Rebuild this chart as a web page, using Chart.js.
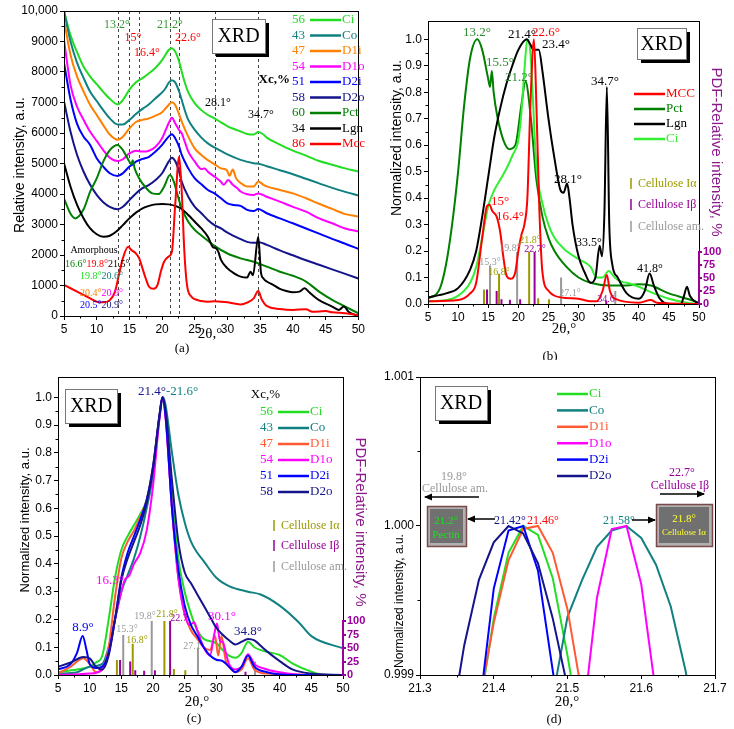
<!DOCTYPE html>
<html>
<head>
<meta charset="utf-8">
<script src="https://cdn.jsdelivr.net/npm/chart.js@4.4.1/dist/chart.umd.min.js"></script>
<style>
  body { margin: 0; background: #fff; width: 734px; height: 729px; position: relative; overflow: hidden; }
  canvas { position: absolute; }
</style>
</head>
<body>
<canvas id="ca" width="367" height="360" style="left:0;top:0"></canvas>
<canvas id="cb" width="367" height="360" style="left:367px;top:0"></canvas>
<canvas id="cc" width="367" height="369" style="left:0;top:360px"></canvas>
<canvas id="cd" width="367" height="369" style="left:367px;top:360px"></canvas>
<script>
// ---- (a) raw XRD patterns, [2theta, intensity] ----
const aCi = [[5,10000],[6,9200],[7,8650],[8,8170],[9,7850],[10,7600],[11,7350],[12,7120],[13.2,6940],[14,7080],[15,7420],[16,7660],[17,7800],[18,7960],[19,8140],[20,8390],[20.5,8560],[21,8720],[21.5,8780],[22,8670],[22.6,8340],[23,8010],[23.5,7630],[24,7330],[25,6970],[26,6750],[27,6590],[28,6480],[29,6350],[30,6220],[31,6130],[32,6050],[33,5970],[34,5950],[34.7,6030],[35.5,5950],[36,5850],[38,5620],[40,5420],[42,5260],[44,5080],[46,4960],[48,4840],[50,4740]];
const aCo = [[5,10000],[6,9000],[7,8300],[8,7800],[9,7350],[10,7050],[11,6750],[12,6480],[13.2,6280],[14,6280],[15,6430],[16,6620],[17,6790],[18,6940],[19,7140],[20,7330],[20.5,7460],[21,7640],[21.5,7730],[22,7660],[22.6,7360],[23,7080],[23.5,6720],[24,6430],[25,6100],[26,5850],[27,5660],[28,5530],[30,5300],[32,5120],[34,5010],[35,4980],[36,4910],[38,4780],[40,4650],[42,4500],[44,4350],[46,4200],[48,4070],[50,3950]];
const aD1i = [[5,9700],[6,8560],[7,7850],[8,7360],[9,6920],[10,6590],[11,6260],[12,5950],[13.2,5780],[14,5880],[15,6150],[16,6360],[17,6430],[18,6480],[19,6570],[20,6680],[21,6920],[21.5,7010],[22,6920],[22.6,6610],[23,6370],[24,5880],[25,5490],[26,5280],[27,5110],[28,4980],[29,4840],[29.9,4780],[30.3,4600],[30.8,4800],[31.3,4520],[32,4360],[33,4250],[34,4250],[34.7,4410],[35.5,4300],[36,4250],[38,4130],[40,4020],[42,3860],[44,3680],[46,3510],[48,3340],[50,3260]];
const aD1o = [[5,9050],[6,7570],[7,6860],[8,6430],[9,6040],[10,5740],[11,5440],[12,5190],[13.2,5080],[14,5140],[15,5330],[16,5420],[17,5390],[18,5420],[19,5550],[20,5830],[21,6320],[21.5,6500],[22,6320],[22.6,6100],[23,5990],[23.5,5690],[24,5390],[25,5060],[26,4820],[26.5,4840],[27,4730],[28,4570],[29,4400],[29.4,4300],[30.1,4460],[30.8,4300],[31.5,4190],[32,4080],[33,3990],[34,3970],[34.7,4020],[36,3910],[38,3750],[40,3580],[42,3420],[44,3200],[46,3040],[48,2870],[50,2770]];
const aD2i = [[5,8300],[6,7100],[7,6300],[8,5880],[9,5610],[9.5,5390],[10,5170],[11,4900],[12,4680],[13.2,4590],[14,4680],[15,4900],[15.5,4970],[16,5060],[17,5150],[18,5220],[19,5390],[20,5610],[21,5880],[21.5,5960],[22,5830],[22.6,5550],[23,5280],[24,4840],[25,4510],[26,4320],[27,4130],[28,4020],[29,3860],[30,3690],[31,3640],[32,3610],[33,3480],[34,3440],[34.7,3510],[36,3370],[38,3200],[40,3040],[42,2870],[44,2700],[46,2530],[48,2370],[50,2200]];
const aD2o = [[5,7030],[6,6040],[7,5280],[8,4730],[9,4300],[10,3970],[11,3730],[12,3580],[13.2,3500],[14,3580],[15,3800],[16,4020],[17,4190],[18,4300],[19,4460],[20,4680],[21,5060],[21.5,5190],[22,5080],[22.6,4730],[23,4400],[24,3910],[25,3580],[26,3370],[27,3150],[28,2980],[29,2870],[30,2730],[31,2620],[32,2520],[33,2430],[34,2400],[35,2410],[36,2330],[38,2150],[40,1990],[42,1830],[44,1680],[46,1530],[48,1380],[50,1230]];
const aPct = [[5,3850],[6,3350],[6.7,3200],[8,3500],[9,4080],[10,4510],[11,5060],[12,5440],[13.2,5610],[14,5440],[15,5060],[15.3,4970],[15.5,5110],[15.8,4840],[16.5,4510],[17.5,4210],[18.5,4020],[19.5,4000],[20.3,4240],[21.2,4620],[21.8,4400],[22.5,3860],[23,3530],[24,3090],[25,2820],[26,2640],[27,2470],[28,2300],[30,2050],[32,1890],[34,1780],[36,1620],[38,1450],[40,1320],[42,1130],[44,800],[46,530],[48,310],[50,90]];
const aLgn = [[5,5010],[6,4240],[7,3640],[8,3200],[9,2870],[10,2680],[11,2600],[12,2630],[13,2770],[14,2980],[15,3200],[16,3390],[17,3530],[18,3610],[19,3660],[20,3670],[21,3660],[22,3610],[23,3510],[24,3310],[25,3090],[26,2870],[27,2600],[27.8,2250],[28.2,2230],[28.6,2100],[29,1840],[30,1560],[31,1400],[32,1290],[33,1260],[33.5,1450],[33.9,1340],[34.7,2600],[35.1,1450],[35.5,1230],[36,1130],[37,1020],[38,890],[39,820],[40,780],[41,800],[41.8,910],[42.5,780],[44,520],[46,310],[47,200],[47.8,310],[48.5,140],[50,0]];
const aMcc = [[5,1020],[7,800],[9,580],[10,470],[11,450],[12,520],[12.8,800],[13.5,1450],[14,1890],[14.8,2270],[15.3,2160],[16,2050],[16.5,1890],[17,1560],[17.5,1230],[18,960],[18.7,890],[19.3,1020],[19.8,1450],[20.3,1780],[21,1950],[21.5,2110],[22,3640],[22.6,5220],[23,4080],[23.4,2110],[23.8,1020],[24.5,630],[25,550],[26,490],[27,470],[28,480],[29,470],[30,450],[31,410],[32,380],[33,440],[34,580],[34.7,820],[35.2,560],[36,330],[38,230],[40,200],[42,220],[43,140],[45,160],[46,120],[48,90],[50,30]];

// ---- (b) normalized patterns ----
const bMcc = [[5,0.01],[10,0.015],[12,0.04],[13,0.08],[14,0.25],[14.8,0.37],[15.2,0.375],[15.7,0.35],[16.4,0.33],[17,0.27],[17.5,0.18],[18,0.11],[18.7,0.095],[19.5,0.12],[20,0.2],[20.5,0.26],[21,0.3],[21.5,0.4],[22,0.75],[22.6,1.0],[23,0.75],[23.5,0.35],[24,0.12],[25,0.05],[27,0.025],[30,0.02],[32,0.01],[33,0.01],[34,0.05],[34.7,0.11],[35.2,0.05],[36,0.02],[40,0.005],[42,0.015],[43,0.005],[50,0]];
const bPct = [[5,0.02],[7,0.06],[8,0.15],[9,0.3],[10,0.5],[11,0.75],[12,0.93],[13.2,1.0],[14,0.96],[15,0.85],[15.3,0.82],[15.6,0.88],[15.9,0.8],[16.5,0.71],[17.5,0.62],[18.5,0.585],[19.5,0.6],[20.5,0.75],[21.2,0.84],[22,0.72],[23,0.47],[24,0.33],[25,0.25],[26,0.2],[28,0.14],[30,0.1],[32,0.08],[35,0.07],[38,0.07],[40,0.075],[42,0.07],[45,0.04],[48,0.02],[50,0.005]];
const bLgn = [[5,0.025],[8,0.04],[10,0.06],[12,0.13],[13,0.2],[14,0.33],[15,0.48],[16,0.63],[17,0.74],[18,0.83],[19,0.9],[20,0.96],[21.4,1.0],[22,0.98],[22.5,0.96],[23.4,0.96],[24,0.88],[25,0.7],[26,0.55],[27,0.43],[27.5,0.42],[28.1,0.455],[28.5,0.4],[29,0.3],[30,0.18],[31,0.12],[32,0.08],[32.8,0.1],[33.5,0.22],[33.9,0.18],[34.3,0.35],[34.7,0.82],[35.1,0.3],[35.6,0.15],[36.5,0.1],[38,0.04],[40,0.02],[41,0.05],[41.8,0.115],[42.5,0.07],[43.5,0.02],[45,0],[47,0],[47.5,0.03],[48,0.065],[48.5,0.03],[50,0]];
const bCi = [[5,0.01],[9,0.02],[11,0.05],[12,0.08],[13,0.14],[14,0.25],[15,0.37],[16,0.43],[17,0.47],[18,0.51],[19,0.56],[20,0.62],[20.5,0.72],[21,0.88],[21.5,1.0],[22,0.95],[23,0.52],[24,0.38],[25,0.3],[26,0.25],[28,0.2],[30,0.17],[32,0.14],[33,0.1],[34,0.1],[35,0.125],[36,0.1],[37,0.085],[38,0.08],[40,0.065],[42,0.045],[45,0.02],[48,0.005],[50,0]];

// ---- PDF reference lines (2theta, relative intensity %) ----
const iaPos = [14.3, 16.8, 21.8, 23.3, 25.1];
const iaInt = [28, 58, 100, 11, 9];
const ibPos = [14.8, 16.4, 17.2, 18.6, 20.3, 22.7, 34.6];
const ibInt = [28, 25, 9, 8, 9, 100, 6];
const amPos = [15.3, 19.8, 27.1, 36.1];
const amInt = [74, 100, 51, 25];

// ---- (c) normalized cellulose samples ----
const cCi = [[5,0.01],[8,0.02],[10,0.03],[11,0.045],[12,0.07],[13,0.2],[14,0.35],[15,0.45],[16,0.5],[17,0.54],[18,0.58],[19,0.63],[20,0.75],[21,0.93],[21.5,1.0],[22,0.95],[23,0.65],[24,0.42],[25,0.3],[26,0.22],[27,0.16],[28,0.13],[30,0.115],[31,0.09],[32,0.07],[33,0.062],[34,0.08],[35,0.12],[36,0.1],[37.5,0.086],[40,0.072],[42,0.042],[45,0.012],[47,0],[50,0]];
const cCo = [[5,0.005],[8,0.01],[10,0.03],[12,0.04],[13,0.1],[14,0.2],[15,0.3],[16,0.36],[17,0.42],[18,0.5],[19,0.6],[20,0.72],[21,0.92],[21.6,1.0],[22,0.97],[23,0.8],[24,0.65],[25,0.55],[26,0.48],[27,0.44],[28,0.41],[30,0.35],[32,0.32],[35,0.3],[37,0.29],[40,0.25],[43,0.19],[45,0.14],[50,0.096]];
const cD1i = [[5,0.005],[7,0.03],[9,0.06],[10,0.04],[11,0.01],[12,0.02],[13,0.1],[14,0.28],[15,0.42],[16,0.48],[17,0.52],[18,0.57],[19,0.63],[20,0.75],[21,0.93],[21.5,1.0],[22,0.93],[23,0.6],[24,0.35],[25,0.22],[26,0.16],[27,0.13],[28,0.1],[29,0.09],[29.8,0.14],[30.3,0.07],[30.8,0.14],[31.5,0.05],[32,0.03],[33,0.01],[34,0.02],[35,0.06],[36,0.02],[38,0.005],[50,0]];
const cD1o = [[5,0],[10,0.005],[12,0.02],[13,0.08],[14,0.2],[15,0.3],[15.5,0.34],[16.3,0.36],[17,0.4],[18,0.44],[19,0.52],[20,0.68],[21,0.92],[21.5,1.0],[22,0.92],[23,0.6],[24,0.35],[25,0.22],[25.8,0.18],[26.5,0.19],[27,0.16],[28,0.1],[29,0.07],[29.7,0.15],[30.1,0.185],[30.6,0.12],[31,0.12],[31.5,0.08],[32,0.04],[33,0.02],[34,0.03],[35,0.075],[36,0.04],[38,0.02],[40,0.01],[44,0],[50,0]];
const cD2i = [[5,0.02],[7,0.04],[8,0.08],[8.9,0.14],[9.5,0.09],[10,0.04],[11,0.025],[12,0.03],[13,0.08],[14,0.2],[15,0.35],[16,0.44],[17,0.5],[18,0.56],[19,0.63],[20,0.75],[21,0.93],[21.5,1.0],[22,0.93],[23,0.6],[24,0.38],[25,0.25],[26,0.18],[27,0.14],[28,0.1],[29,0.07],[30,0.055],[31,0.05],[32,0.03],[33,0.01],[34,0.03],[35,0.07],[36,0.03],[38,0.01],[42,0],[50,0]];
const cD2o = [[5,0.03],[7,0.045],[9,0.065],[10,0.06],[11,0.03],[12,0.02],[13,0.07],[14,0.2],[15,0.34],[16,0.42],[17,0.48],[18,0.54],[19,0.62],[20,0.74],[21,0.93],[21.5,1.0],[22,0.95],[23,0.7],[24,0.48],[25,0.37],[26,0.33],[27,0.29],[28,0.25],[29,0.21],[30,0.17],[31,0.145],[32,0.125],[33,0.11],[34,0.12],[35,0.13],[36,0.125],[37,0.105],[38,0.085],[40,0.05],[42,0.02],[45,0.005],[50,0]];

// ---- (d) peak tops ----
const dCi = [[21.38,0.99875],[21.40,0.99938],[21.42,0.99982],[21.44,1.0],[21.46,0.99994],[21.48,0.99965],[21.50,0.99913],[21.52,0.99855]];
const dCo = [[21.48,0.99885],[21.50,0.99939],[21.52,0.99964],[21.54,0.99986],[21.56,0.99997],[21.58,1.0],[21.60,0.99992],[21.62,0.99974],[21.64,0.99946],[21.66,0.99903],[21.68,0.9985]];
const dD1i = [[21.38,0.9988],[21.40,0.99935],[21.42,0.99977],[21.44,0.99998],[21.46,1.0],[21.48,0.99982],[21.50,0.99944],[21.52,0.99886]];
const dD1o = [[21.52,0.99866],[21.54,0.99952],[21.56,0.99998],[21.58,1.0],[21.60,0.99961],[21.62,0.99887]];
const dD2i = [[21.38,0.99875],[21.40,0.99958],[21.42,0.99997],[21.44,1.0],[21.46,0.9997],[21.48,0.99903],[21.50,0.9984]];
const dD2o = [[21.34,0.9986],[21.36,0.9992],[21.38,0.99964],[21.40,0.99989],[21.42,1.0],[21.44,0.99995],[21.46,0.99975],[21.48,0.99938],[21.50,0.99892]];

const GRN = '#22dd22', TEAL = '#108080', ORG = '#ff8000', MAG = '#ff00ff', BLU = '#0000ff',
      NAV = '#14148c', DKG = '#008000', BLK = '#000000', RED = '#ff0000', TOM = '#ff5a33',
      OLV = '#9a9a00', PUR = '#990099', GRY = '#999999', LGRN = '#33ee33';
const SERIF = '"Liberation Serif", "DejaVu Serif", serif';
const SANS = '"Liberation Sans", Arial, sans-serif';

Chart.defaults.font.family = SANS;
Chart.defaults.font.size = 12;
Chart.defaults.color = '#000';

const pts = a => a.map(p => ({ x: p[0], y: p[1] }));

function curve(label, data, color, smooth) {
  return {
    label, data: pts(data), borderColor: color, borderWidth: 2, pointRadius: 0, fill: false,
    tension: smooth === false ? 0 : 0.4, cubicInterpolationMode: smooth === false ? 'default' : 'monotone', yAxisID: 'y'
  };
}

function sticks(label, pos, ints, color) {
  const d = [];
  pos.forEach((x, i) => { d.push({ x, y: 0 }, { x, y: ints[i] }, { x, y: null }); });
  return { label, data: d, borderColor: color, borderWidth: 2, pointRadius: 0, tension: 0, spanGaps: false, yAxisID: 'y2' };
}

function list(min, max, step) {
  const t = [];
  const n = Math.round((max - min) / step);
  for (let i = 0; i <= n; i++) t.push({ value: +(min + i * step).toFixed(6) });
  return t;
}

function xAxis(min, max, step, fmt, h) {
  return {
    type: 'linear', position: 'bottom', min, max,
    afterBuildTicks: s => { s.ticks = list(min, max, step); },
    afterFit: s => { s.height = h; },
    ticks: { callback: fmt, padding: 2, maxRotation: 0, autoSkip: false },
    grid: { drawOnChartArea: false, tickLength: 4, tickColor: '#000', color: '#000' },
    border: { color: '#000' }
  };
}

function yAxis(min, max, tmin, tmax, step, fmt, w) {
  return {
    type: 'linear', position: 'left', min, max,
    afterBuildTicks: s => { s.ticks = list(tmin, tmax, step); },
    afterFit: s => { s.width = w; },
    ticks: { callback: fmt, padding: 2, autoSkip: false },
    grid: { drawOnChartArea: false, tickLength: 4, tickColor: '#000', color: '#000' },
    border: { color: '#000' }
  };
}

function pdfAxis(max, w) {
  return {
    type: 'linear', position: 'right', min: 0, max,
    afterBuildTicks: s => { s.ticks = list(0, 100, 25); },
    afterFit: s => { s.width = w; },
    ticks: { color: PUR, font: { size: 11, weight: 'bold' }, padding: 1, autoSkip: false },
    grid: { drawOnChartArea: false, tickLength: 3, tickColor: PUR, lineWidth: 2 },
    border: { display: false }
  };
}

function options(box, cw, scales) {
  return {
    responsive: false, animation: false, devicePixelRatio: 1,
    layout: { padding: { left: 0, top: box[1], right: scales.y2 ? 0 : cw - box[2], bottom: 0 } },
    plugins: { legend: { display: false }, tooltip: { enabled: false } },
    scales
  };
}

// ---- drawing helpers ----
function txt(ctx, s, x, y, color, size, align, fam, bold) {
  ctx.save();
  ctx.font = (bold ? 'bold ' : '') + size + 'px ' + (fam || SERIF);
  ctx.fillStyle = color;
  ctx.textAlign = align || 'center';
  ctx.textBaseline = 'middle';
  ctx.fillText(s, x, y);
  ctx.restore();
}

function seq(ctx, parts, x, y, size) {
  ctx.save();
  ctx.font = size + 'px ' + SERIF;
  parts.forEach(p => {
    ctx.fillStyle = p[1]; ctx.textAlign = 'left'; ctx.textBaseline = 'middle';
    ctx.fillText(p[0], x, y);
    x += ctx.measureText(p[0]).width;
  });
  ctx.restore();
}

function rot(ctx, s, x, y, ang, color, size) {
  ctx.save();
  ctx.translate(x, y); ctx.rotate(ang);
  ctx.font = size + 'px ' + SANS;
  ctx.fillStyle = color; ctx.textAlign = 'center'; ctx.textBaseline = 'middle';
  ctx.fillText(s, 0, 0);
  ctx.restore();
}

function frame(ctx, ch) {
  const a = ch.chartArea;
  ctx.save();
  ctx.strokeStyle = '#000'; ctx.lineWidth = 1;
  ctx.strokeRect(Math.round(a.left) + 0.5, Math.round(a.top) + 0.5, Math.round(a.right - a.left), Math.round(a.bottom - a.top));
  ctx.restore();
}

function minor(ctx, ch, axis, from, to, step) {
  const a = ch.chartArea, s = ch.scales[axis];
  ctx.save(); ctx.strokeStyle = '#000'; ctx.lineWidth = 1; ctx.beginPath();
  list(from, to, step).forEach(t => {
    const p = Math.round(s.getPixelForValue(t.value)) + 0.5;
    if (axis === 'x') { ctx.moveTo(p, a.bottom); ctx.lineTo(p, a.bottom + 2.5); }
    else { ctx.moveTo(a.left, p); ctx.lineTo(a.left - 2.5, p); }
  });
  ctx.stroke(); ctx.restore();
}

function xrd(ctx, x, y, w, h) {
  ctx.save();
  ctx.fillStyle = '#000'; ctx.fillRect(x + 4, y + 4, w, h);
  ctx.fillStyle = '#fff'; ctx.fillRect(x, y, w, h);
  ctx.strokeStyle = '#777'; ctx.lineWidth = 1; ctx.strokeRect(x + 0.5, y + 0.5, w, h);
  ctx.restore();
  txt(ctx, 'XRD', x + w / 2, y + h / 2 + 1, '#000', 20);
}

function legendRows(ctx, rows, xNum, y0, dy, size) {
  rows.forEach((r, i) => {
    const y = y0 + i * dy;
    if (r[0]) txt(ctx, r[0], xNum, y, r[1], size, 'right');
    ctx.save(); ctx.strokeStyle = r[1]; ctx.lineWidth = 2.5;
    ctx.beginPath(); ctx.moveTo(xNum + 5, y); ctx.lineTo(xNum + 36, y); ctx.stroke(); ctx.restore();
    txt(ctx, r[2], xNum + 37, y, r[1], size, 'left');
  });
}

function phaseLegend(ctx, x, ys) {
  const items = [['Cellulose I\u03b1', OLV], ['Cellulose I\u03b2', PUR], ['Cellulose am.', GRY]];
  items.forEach((it, i) => {
    ctx.save(); ctx.strokeStyle = it[1]; ctx.lineWidth = 1.5;
    ctx.beginPath(); ctx.moveTo(x, ys[i] - 6); ctx.lineTo(x, ys[i] + 5); ctx.stroke(); ctx.restore();
    txt(ctx, it[0], x + 7, ys[i], it[1], 12, 'left');
  });
}

function pdfSpine(ctx, ch) {
  const a = ch.chartArea, s = ch.scales.y2;
  ctx.save(); ctx.strokeStyle = PUR; ctx.lineWidth = 2;
  ctx.beginPath(); ctx.moveTo(a.right, s.getPixelForValue(0) + 1); ctx.lineTo(a.right, s.getPixelForValue(100) - 1); ctx.stroke();
  ctx.restore();
}

function arrow(ctx, x1, y1, x2, y2, color) {
  ctx.save(); ctx.strokeStyle = color; ctx.fillStyle = color; ctx.lineWidth = 1.5;
  ctx.beginPath(); ctx.moveTo(x1, y1); ctx.lineTo(x2, y2); ctx.stroke();
  const d = Math.sign(x2 - x1);
  ctx.beginPath(); ctx.moveTo(x2 + d, y2); ctx.lineTo(x2 - d * 7, y2 - 3.5); ctx.lineTo(x2 - d * 7, y2 + 3.5); ctx.closePath(); ctx.fill();
  ctx.restore();
}

function grayBox(ctx, x, y, w, h) {
  ctx.save();
  ctx.fillStyle = '#b0b0b0'; ctx.fillRect(x, y, w, h);
  ctx.fillStyle = '#707070'; ctx.fillRect(x + 3, y + 3, w - 6, h - 6);
  ctx.strokeStyle = '#7a4a4a'; ctx.lineWidth = 1.5; ctx.strokeRect(x + 0.5, y + 0.5, w, h);
  ctx.restore();
}

const fmt0 = v => (v === 10000 ? '10,000' : String(v));
const fmt1 = v => v.toFixed(1);

// ================= (a) =================
new Chart(document.getElementById('ca'), {
  type: 'line',
  data: { datasets: [
    curve('Mcc', aMcc, RED), curve('Lgn', aLgn, BLK), curve('Pct', aPct, DKG),
    curve('D2o', aD2o, NAV), curve('D2i', aD2i, BLU), curve('D1o', aD1o, MAG),
    curve('D1i', aD1i, ORG), curve('Co', aCo, TEAL), curve('Ci', aCi, GRN)
  ] },
  options: options([64, 11, 363, 316], 367, {
    x: xAxis(5, 50, 5, v => String(v), 44),
    y: yAxis(0, 10000, 0, 10000, 1000, fmt0, 64)
  }),
  plugins: [{
    id: 'decoA',
    beforeDatasetsDraw(ch) {
      const ctx = ch.ctx, a = ch.chartArea, x = ch.scales.x;
      ctx.save(); ctx.strokeStyle = '#444'; ctx.lineWidth = 1; ctx.setLineDash([3, 3]);
      [13.2, 15, 16.4, 21.2, 22.6, 28.1, 34.7].forEach(d => {
        const p = Math.round(x.getPixelForValue(d)) + 0.5;
        ctx.beginPath(); ctx.moveTo(p, a.top); ctx.lineTo(p, a.bottom); ctx.stroke();
      });
      ctx.restore();
    },
    afterDraw(ch) {
      const ctx = ch.ctx;
      frame(ctx, ch);
      minor(ctx, ch, 'x', 7.5, 47.5, 5);
      minor(ctx, ch, 'y', 500, 9500, 1000);
      txt(ctx, '13.2\u00b0', 117, 25, '#339933', 12);
      txt(ctx, '21.2\u00b0', 170, 25, '#339933', 12);
      txt(ctx, '15\u00b0', 133, 38, RED, 12);
      txt(ctx, '22.6\u00b0', 188, 38, RED, 12);
      txt(ctx, '16.4\u00b0', 147, 53, RED, 12);
      txt(ctx, '28.1\u00b0', 218, 103, BLK, 12);
      txt(ctx, '34.7\u00b0', 261, 115, BLK, 12);
      xrd(ctx, 212, 19, 53, 34);
      txt(ctx, 'Xc,%', 290, 80, BLK, 13, 'right', SERIF, true);
      legendRows(ctx, [
        ['56', GRN, 'Ci'], ['43', TEAL, 'Co'], ['47', ORG, 'D1i'], ['54', MAG, 'D1o'], ['51', BLU, 'D2i'],
        ['58', NAV, 'D2o'], ['60', DKG, 'Pct'], ['34', BLK, 'Lgn'], ['86', RED, 'Mcc']
      ], 305, 20, 15.5, 13);
      txt(ctx, 'Amorphous', 94, 250, BLK, 10);
      seq(ctx, [['16.6\u00b0', DKG], ['19.8\u00b0', RED], ['21.5\u00b0', BLK]], 65, 264, 10);
      seq(ctx, [['19.8\u00b0', GRN], ['20.6\u00b0', TEAL]], 80, 276, 10);
      seq(ctx, [['20.4\u00b0', ORG], ['20.9\u00b0', MAG]], 80, 293, 10);
      seq(ctx, [['20.5\u00b0', BLU], ['20.9\u00b0', NAV]], 80, 305, 10);
      rot(ctx, 'Relative intensity, a.u.', 20, 165, -Math.PI / 2, BLK, 14);
      txt(ctx, '2\u03b8,\u00b0', 210, 334, BLK, 15);
      txt(ctx, '(a)', 182, 349, BLK, 13);
    }
  }]
});

// ================= (b) =================
new Chart(document.getElementById('cb'), {
  type: 'line',
  data: { datasets: [
    curve('MCC', bMcc, RED), curve('Lgn', bLgn, BLK), curve('Ci', bCi, LGRN), curve('Pct', bPct, DKG),
    sticks('Ia', iaPos, iaInt, OLV), sticks('Ib', ibPos, ibInt, PUR), sticks('am', amPos, amInt, GRY)
  ] },
  options: options([61, 21, 332, 304], 367, {
    x: xAxis(5, 50, 5, v => String(v), 56),
    y: yAxis(0, 1.069, 0, 1.0, 0.1, fmt1, 61),
    y2: pdfAxis(544, 35)
  }),
  plugins: [{
    id: 'decoB',
    afterDraw(ch) {
      const ctx = ch.ctx;
      frame(ctx, ch);
      pdfSpine(ctx, ch);
      minor(ctx, ch, 'x', 7.5, 47.5, 5);
      minor(ctx, ch, 'y', 0.05, 0.95, 0.1);
      txt(ctx, '13.2\u00b0', 110, 33, '#2e8b2e', 13);
      txt(ctx, '15.5\u00b0', 133, 63, '#2e8b2e', 13);
      txt(ctx, '21.2\u00b0', 152, 78, '#2e8b2e', 13);
      txt(ctx, '21.4\u00b0', 155, 35, BLK, 13);
      txt(ctx, '22.6\u00b0', 179, 33, RED, 13);
      txt(ctx, '23.4\u00b0', 189, 45, BLK, 13);
      txt(ctx, '34.7\u00b0', 238, 82, BLK, 13);
      txt(ctx, '28.1\u00b0', 201, 180, BLK, 13);
      txt(ctx, '15\u00b0', 133, 202, RED, 13);
      txt(ctx, '16.4\u00b0', 143, 217, RED, 13);
      txt(ctx, '33.5\u00b0', 222, 243, BLK, 12);
      txt(ctx, '41.8\u00b0', 283, 269, BLK, 12);
      txt(ctx, '15.3\u00b0', 123, 262, GRY, 10);
      txt(ctx, '16.8\u00b0', 132, 272, OLV, 10);
      txt(ctx, '19.8\u00b0', 143, 248, GRY, 10);
      txt(ctx, '21.8\u00b0', 163, 240, OLV, 10);
      txt(ctx, '22.7\u00b0', 168, 249, PUR, 10);
      txt(ctx, '27.1\u00b0', 203, 293, GRY, 10);
      txt(ctx, '34.6', 239, 299, PUR, 10);
      xrd(ctx, 270, 28, 49, 31);
      legendRows(ctx, [['', RED, 'MCC'], ['', DKG, 'Pct'], ['', BLK, 'Lgn'], ['', LGRN, 'Ci']], 262, 94, 15, 13);
      phaseLegend(ctx, 264, [184, 205, 227]);
      rot(ctx, 'Normalized intensity, a.u.', 30, 138, -Math.PI / 2, BLK, 14);
      rot(ctx, 'PDF-Relative intensity, %', 349, 152, Math.PI / 2, '#8b1a8b', 15);
      txt(ctx, '2\u03b8,\u00b0', 197, 329, BLK, 15);
      txt(ctx, '(b)', 183, 357, BLK, 13);
    }
  }]
});

// ================= (c) =================
new Chart(document.getElementById('cc'), {
  type: 'line',
  data: { datasets: [
    curve('D2o', cD2o, NAV), curve('D2i', cD2i, BLU), curve('D1o', cD1o, MAG), curve('D1i', cD1i, TOM),
    curve('Co', cCo, TEAL), curve('Ci', cCi, GRN),
    sticks('Ia', iaPos, iaInt, OLV), sticks('Ib', ibPos, ibInt, PUR), sticks('am', amPos, amInt, GRY)
  ] },
  options: options([58, 17, 343, 315], 367, {
    x: xAxis(5, 50, 5, v => String(v), 54),
    y: yAxis(0, 1.073, 0, 1.0, 0.1, fmt1, 58),
    y2: pdfAxis(552, 24)
  }),
  plugins: [{
    id: 'decoC',
    afterDraw(ch) {
      const ctx = ch.ctx;
      frame(ctx, ch);
      pdfSpine(ctx, ch);
      minor(ctx, ch, 'x', 7.5, 47.5, 5);
      minor(ctx, ch, 'y', 0.05, 0.95, 0.1);
      seq(ctx, [['21.4\u00b0', NAV], ['-21.6\u00b0', TEAL]], 138, 32, 13);
      txt(ctx, '16.3\u00b0', 110, 221, MAG, 13);
      txt(ctx, '8.9\u00b0', 83, 268, BLU, 13);
      txt(ctx, '30.1\u00b0', 222, 257, MAG, 13);
      txt(ctx, '34.8\u00b0', 248, 272, NAV, 13);
      txt(ctx, '19.8\u00b0', 145, 256, GRY, 10);
      txt(ctx, '21.8\u00b0', 167, 254, OLV, 10);
      txt(ctx, '22.7', 179, 258, PUR, 10);
      txt(ctx, '15.3\u00b0', 127, 269, GRY, 10);
      txt(ctx, '16.8\u00b0', 137, 280, OLV, 10);
      txt(ctx, '27.1', 192, 286, GRY, 10);
      xrd(ctx, 65, 29, 52, 34);
      txt(ctx, 'Xc,%', 280, 35, BLK, 13, 'right');
      legendRows(ctx, [
        ['56', GRN, 'Ci'], ['43', TEAL, 'Co'], ['47', TOM, 'D1i'], ['54', MAG, 'D1o'], ['51', BLU, 'D2i'], ['58', NAV, 'D2o']
      ], 273, 52, 16, 13);
      phaseLegend(ctx, 274, [166, 186, 207]);
      rot(ctx, 'Normalized intensity, a.u.', 25, 160, -Math.PI / 2, BLK, 13);
      rot(ctx, 'PDF-Relative intensity, %', 360, 162, Math.PI / 2, '#8b1a8b', 15);
      txt(ctx, '2\u03b8,\u00b0', 197, 342, BLK, 15);
      txt(ctx, '(c)', 194, 359, BLK, 13);
    }
  }]
});

// ================= (d) =================
new Chart(document.getElementById('cd'), {
  type: 'line',
  data: { datasets: [
    curve('D2o', dD2o, NAV, false), curve('D2i', dD2i, BLU, false), curve('D1o', dD1o, MAG, false),
    curve('D1i', dD1i, TOM, false), curve('Co', dCo, TEAL, false), curve('Ci', dCi, GRN, false)
  ] },
  options: options([53, 17, 348, 315], 367, {
    x: xAxis(21.3, 21.7, 0.1, fmt1, 54),
    y: yAxis(0.999, 1.001, 0.999, 1.001, 0.001, v => v.toFixed(3), 53)
  }),
  plugins: [{
    id: 'decoD',
    afterDraw(ch) {
      const ctx = ch.ctx;
      frame(ctx, ch);
      minor(ctx, ch, 'x', 21.35, 21.65, 0.1);
      minor(ctx, ch, 'y', 0.9995, 1.0005, 0.001);
      xrd(ctx, 68, 26, 52, 34);
      legendRows(ctx, [['', GRN, 'Ci'], ['', TEAL, 'Co'], ['', TOM, 'D1i'], ['', MAG, 'D1o'], ['', BLU, 'D2i'], ['', NAV, 'D2o']], 185, 34, 16.4, 13);
      txt(ctx, '19.8\u00b0', 87, 117, GRY, 12);
      txt(ctx, 'Cellulose am.', 88, 129, GRY, 12);
      arrow(ctx, 112, 137, 58, 137, BLK);
      grayBox(ctx, 60, 146, 39, 40);
      txt(ctx, '21.2\u00b0', 79, 161, GRN, 11);
      txt(ctx, 'Pectin', 79, 175, GRN, 11);
      arrow(ctx, 128, 159, 101, 159, BLK);
      txt(ctx, '21.42\u00b0', 143, 161, NAV, 12);
      txt(ctx, '21.46\u00b0', 176, 161, RED, 12);
      txt(ctx, '21.58\u00b0', 252, 161, TEAL, 12);
      arrow(ctx, 265, 160, 288, 160, BLK);
      grayBox(ctx, 289, 144, 56, 42);
      txt(ctx, '21.8\u00b0', 317, 159, '#ffff33', 11);
      txt(ctx, 'Cellulose I\u03b1', 317, 173, '#ffff33', 9);
      txt(ctx, '22.7\u00b0', 315, 113, PUR, 12);
      txt(ctx, 'Cellulose I\u03b2', 313, 126, PUR, 12);
      arrow(ctx, 293, 134, 337, 134, BLK);
      rot(ctx, 'Normalized intensity, a.u.', 33, 241, -Math.PI / 2, BLK, 12);
      txt(ctx, '2\u03b8,\u00b0', 200, 342, BLK, 15);
      txt(ctx, '(d)', 187, 360, BLK, 13);
    }
  }]
});
</script>
</body>
</html>
